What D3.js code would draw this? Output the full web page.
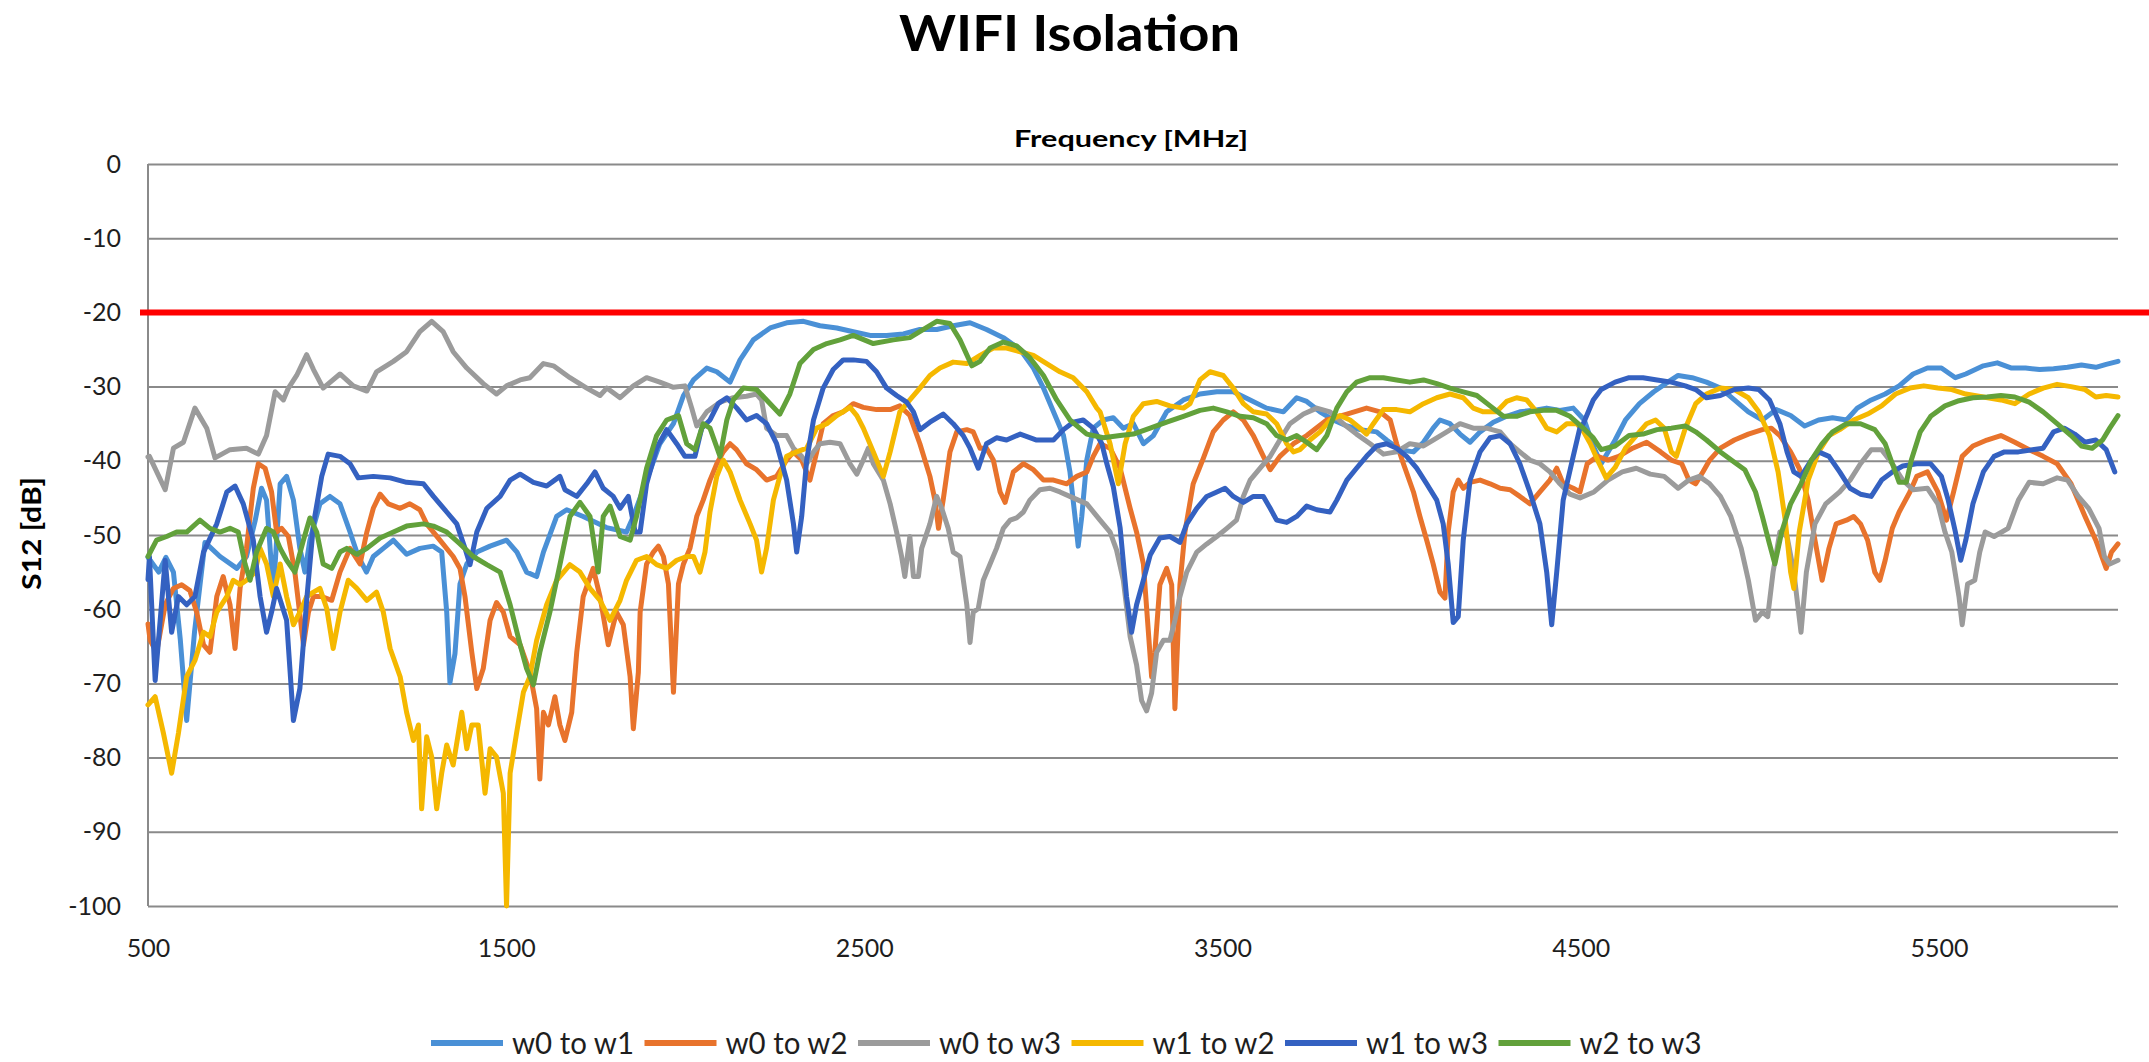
<!DOCTYPE html>
<html><head><meta charset="utf-8">
<script src="https://cdn.jsdelivr.net/npm/d3@7"></script>
<style>
html,body{margin:0;padding:0;background:#fff;}
svg{display:block;}
text{font-family:Lato,"Open Sans",sans-serif;}
</style></head><body>
<svg id="chart" width="2149" height="1062"></svg>
<script>
// ---------- data (frequency MHz, S12 dB) ----------
const seriesNames = ["w0 to w1","w0 to w2","w0 to w3","w1 to w2","w1 to w3","w2 to w3"];
const xTicks = [500,1500,2500,3500,4500,5500];
const yTicks = [0,-10,-20,-30,-40,-50,-60,-70,-80,-90,-100];
const limitDb = -20;

const w0w1 = [[500,-53],[530,-55],[550,-53],[571,-55],[590,-64],[608,-75],[630,-63],[659,-51],[701,-52.9],[748,-54.5],[775,-52.9],[799,-48.1],[817,-43.7],[831,-45.3],[850,-57.7],[869,-43.1],[887,-42.1],[906,-45.3],[924,-51.8],[938,-55],[952,-50.7],[980,-45.8],[1008,-44.8],[1036,-45.8],[1064,-49.6],[1087,-52.9],[1110,-55],[1129,-52.9],[1157,-51.8],[1185,-50.7],[1222,-52.6],[1259,-51.8],[1296,-51.5],[1320,-52.3],[1334,-60.4],[1343,-69.9],[1357,-66],[1371,-56.6],[1390,-53.9],[1418,-52.3],[1455,-51.5],[1501,-50.7],[1530,-52.3],[1557,-55],[1585,-55.6],[1604,-52.3],[1641,-47.5],[1669,-46.6],[1715,-47.5],[1780,-49],[1836,-49.6],[1855,-47.5],[1892,-42.6],[1929,-37.7],[1967,-35],[1995,-31.2],[2023,-29.1],[2060,-27.5],[2088,-28],[2125,-29.4],[2153,-26.4],[2190,-23.7],[2237,-22.1],[2283,-21.4],[2330,-21.2],[2376,-21.8],[2423,-22.1],[2469,-22.6],[2516,-23.1],[2562,-23.1],[2609,-22.9],[2655,-22.3],[2702,-22.3],[2748,-21.8],[2795,-21.4],[2841,-22.3],[2888,-23.4],[2935,-25],[2972,-27.5],[3000,-30.2],[3028,-33.4],[3056,-36.6],[3074,-41.5],[3088,-47.5],[3097,-51.5],[3107,-47.5],[3121,-39.9],[3139,-35.6],[3167,-34.5],[3195,-34.2],[3223,-35.6],[3251,-35],[3279,-37.7],[3307,-36.6],[3344,-33.4],[3391,-31.8],[3437,-31],[3484,-30.7],[3530,-30.7],[3577,-31.8],[3623,-32.9],[3670,-33.4],[3707,-31.5],[3735,-32],[3772,-33.4],[3809,-34.5],[3847,-35.3],[3884,-35.8],[3930,-36.1],[3958,-37.2],[3995,-38.5],[4033,-38.8],[4061,-37.5],[4088,-35.6],[4107,-34.5],[4135,-35],[4163,-36.4],[4191,-37.5],[4219,-36.1],[4256,-34.8],[4293,-34],[4330,-33.4],[4368,-33.2],[4405,-32.9],[4442,-33.2],[4479,-32.9],[4510,-34.5],[4535,-38],[4557,-40.4],[4596,-37.2],[4625,-34.5],[4664,-32.3],[4704,-30.7],[4743,-29.4],[4772,-28.5],[4811,-28.8],[4851,-29.4],[4890,-30.2],[4929,-31.8],[4968,-33.4],[5007,-34.5],[5046,-33.1],[5086,-33.9],[5125,-35.3],[5164,-34.5],[5203,-34.2],[5242,-34.5],[5272,-32.9],[5311,-31.8],[5350,-31],[5389,-29.9],[5428,-28.3],[5468,-27.5],[5507,-27.5],[5546,-28.8],[5575,-28.3],[5624,-27.2],[5663,-26.8],[5703,-27.5],[5742,-27.5],[5781,-27.7],[5820,-27.6],[5859,-27.4],[5898,-27.1],[5938,-27.4],[5967,-27],[6000,-26.6]];

const w0w2 = [[500,-62],[506,-64.2],[524,-65.8],[548,-59.4],[571,-57.2],[594,-56.7],[617,-57.5],[636,-60.4],[655,-64.8],[673,-65.8],[692,-58.3],[710,-55.6],[729,-59.4],[743,-65.3],[757,-57.2],[775,-51.8],[794,-43.7],[808,-40.4],[827,-41],[845,-44.2],[859,-49.6],[873,-49.1],[892,-50.2],[910,-55],[934,-64.8],[948,-60.4],[962,-58.3],[985,-58.3],[1013,-58.8],[1036,-55],[1064,-51.8],[1092,-53.9],[1111,-49.6],[1129,-46.4],[1148,-44.5],[1171,-45.8],[1204,-46.4],[1231,-45.8],[1259,-46.6],[1278,-48.5],[1315,-50.7],[1352,-52.9],[1371,-54.5],[1385,-58.3],[1404,-65.8],[1418,-70.7],[1436,-68],[1455,-61.5],[1473,-59.1],[1492,-60.4],[1511,-63.7],[1539,-64.8],[1566,-68.5],[1585,-73.4],[1594,-82.9],[1604,-73.9],[1618,-75.6],[1636,-71.8],[1650,-75.6],[1664,-77.7],[1683,-73.9],[1697,-65.8],[1715,-58.3],[1743,-54.5],[1762,-58.3],[1785,-64.8],[1808,-60.4],[1827,-62.1],[1846,-69.1],[1855,-76.1],[1869,-68.5],[1874,-60.4],[1892,-53.9],[1911,-52.3],[1925,-51.5],[1939,-52.9],[1953,-56.6],[1967,-71.2],[1981,-56.6],[1995,-53.9],[2013,-51.8],[2032,-47.5],[2050,-45.3],[2069,-42.6],[2088,-40.4],[2106,-38.8],[2125,-37.7],[2143,-38.5],[2171,-40.4],[2199,-41.2],[2227,-42.6],[2255,-42.1],[2283,-39.9],[2302,-38.8],[2325,-39.9],[2348,-42.6],[2367,-38.8],[2385,-35],[2413,-33.9],[2441,-33.4],[2469,-32.3],[2497,-32.8],[2534,-33.1],[2572,-33.1],[2599,-32.6],[2627,-33.9],[2655,-37.7],[2683,-42.1],[2697,-45.3],[2707,-49.1],[2720,-45.3],[2739,-38.8],[2758,-36.1],[2786,-35.8],[2804,-36.1],[2823,-38.3],[2841,-38.3],[2860,-39.9],[2879,-44.2],[2893,-45.6],[2916,-41.5],[2944,-40.4],[2972,-41.2],[3000,-42.6],[3028,-42.6],[3065,-43.1],[3093,-42.1],[3121,-41.5],[3139,-39.4],[3158,-37.7],[3186,-38.3],[3214,-41],[3242,-46.4],[3260,-49.6],[3279,-53.9],[3293,-63.1],[3302,-69.1],[3311,-65.8],[3325,-56.7],[3344,-54.5],[3358,-56.7],[3367,-73.4],[3381,-56.7],[3395,-49.6],[3418,-43.1],[3446,-39.7],[3474,-36.1],[3502,-34.5],[3530,-33.4],[3558,-34.5],[3586,-36.6],[3614,-39.4],[3633,-41.2],[3660,-39.4],[3698,-37.7],[3735,-36.6],[3791,-34.5],[3847,-33.7],[3902,-32.9],[3940,-33.4],[3968,-34.5],[3986,-37.7],[4005,-40.4],[4033,-44.2],[4051,-47.5],[4070,-50.7],[4088,-53.9],[4107,-57.7],[4121,-58.5],[4130,-49.6],[4144,-44.2],[4158,-42.6],[4172,-43.7],[4191,-42.9],[4219,-42.6],[4247,-43.1],[4275,-43.7],[4303,-43.9],[4330,-44.8],[4358,-45.8],[4386,-44.2],[4414,-42.6],[4433,-41],[4451,-43.1],[4479,-43.7],[4498,-44.2],[4518,-40.4],[4547,-39.4],[4576,-39.9],[4606,-39.4],[4645,-38.3],[4684,-37.5],[4723,-38.8],[4753,-39.9],[4782,-40.4],[4802,-42.6],[4821,-43.1],[4841,-41.5],[4860,-39.9],[4890,-38.3],[4929,-37.2],[4968,-36.4],[5007,-35.8],[5032,-35.6],[5056,-36.6],[5086,-38.8],[5110,-41],[5135,-45.3],[5154,-50.7],[5174,-56.1],[5193,-51.8],[5213,-48.5],[5242,-48],[5262,-47.5],[5281,-48.5],[5301,-50.7],[5321,-55],[5335,-56.1],[5350,-53.4],[5370,-49.1],[5389,-46.9],[5419,-44.2],[5438,-42.1],[5468,-41.5],[5497,-44.2],[5521,-48],[5541,-44.2],[5565,-39.4],[5595,-38],[5634,-37.2],[5673,-36.6],[5712,-37.5],[5752,-38.5],[5791,-39.4],[5830,-40.4],[5869,-43.1],[5908,-47.5],[5938,-50.7],[5967,-54.5],[5982,-52.3],[6000,-51.2]];

const w0w3 = [[500,-39.5],[504,-39.4],[548,-43.9],[571,-38.3],[599,-37.5],[631,-32.9],[664,-35.6],[687,-39.6],[729,-38.5],[775,-38.3],[808,-39.1],[831,-36.6],[855,-30.7],[878,-31.8],[892,-30.2],[915,-28.5],[943,-25.7],[962,-27.7],[989,-30.2],[1036,-28.3],[1073,-29.9],[1111,-30.6],[1138,-28],[1185,-26.6],[1222,-25.3],[1259,-22.6],[1292,-21.2],[1324,-22.6],[1352,-25.3],[1390,-27.5],[1436,-29.6],[1473,-31],[1501,-29.9],[1539,-29.1],[1566,-28.8],[1604,-26.9],[1632,-27.2],[1678,-28.8],[1725,-30.2],[1762,-31.2],[1781,-30.2],[1818,-31.5],[1855,-29.9],[1892,-28.8],[1929,-29.4],[1967,-30.1],[1999,-29.9],[2018,-32.9],[2032,-35.3],[2060,-33.4],[2097,-32.1],[2134,-31.5],[2171,-31.3],[2199,-31],[2213,-31.8],[2227,-35.6],[2255,-36.6],[2283,-36.6],[2302,-38.3],[2325,-39.4],[2339,-40.4],[2358,-38.8],[2376,-37.7],[2404,-37.5],[2432,-37.7],[2460,-40.4],[2479,-41.8],[2497,-39.9],[2511,-38.3],[2525,-40.4],[2553,-42.6],[2572,-45.8],[2590,-49.6],[2604,-52.9],[2613,-55.6],[2627,-50.2],[2637,-55.6],[2651,-55.6],[2660,-51.8],[2683,-48.5],[2702,-44.8],[2716,-46.4],[2734,-49.1],[2748,-52.3],[2767,-52.9],[2786,-59.4],[2795,-64.5],[2804,-60.4],[2818,-59.9],[2832,-56.1],[2851,-53.9],[2869,-51.8],[2888,-49.1],[2907,-48],[2925,-47.7],[2944,-46.9],[2962,-45.3],[2990,-43.9],[3018,-43.7],[3046,-44.2],[3083,-45],[3121,-45.8],[3158,-48],[3186,-49.6],[3204,-52],[3223,-56.1],[3242,-63.7],[3260,-67.5],[3274,-72.3],[3288,-73.7],[3302,-71.3],[3316,-65.8],[3335,-64.2],[3353,-64.2],[3367,-61.5],[3381,-58.3],[3400,-55],[3428,-52.3],[3456,-51.2],[3484,-50.2],[3512,-49.1],[3539,-48],[3558,-44.8],[3577,-42.6],[3605,-41],[3633,-39.4],[3660,-37.2],[3688,-35],[3726,-33.7],[3763,-32.9],[3800,-33.4],[3837,-35],[3874,-36.4],[3912,-37.7],[3949,-39.1],[3986,-38.8],[4023,-37.7],[4061,-38],[4088,-37.2],[4126,-36.1],[4163,-35],[4200,-35.6],[4237,-35.6],[4275,-36.1],[4303,-37.7],[4330,-38.8],[4358,-39.9],[4386,-40.4],[4414,-41.5],[4442,-43.1],[4470,-44.5],[4498,-45],[4537,-44.2],[4576,-42.6],[4616,-41.5],[4655,-41],[4694,-41.8],[4733,-42.1],[4772,-43.7],[4802,-42.6],[4831,-42.1],[4860,-43.1],[4890,-44.8],[4919,-47.5],[4948,-51.8],[4968,-56.1],[4988,-61.5],[5007,-60.4],[5022,-61],[5037,-55],[5056,-49.6],[5076,-50.2],[5095,-55],[5115,-63.1],[5130,-55],[5154,-48.5],[5184,-45.8],[5223,-44.2],[5252,-42.6],[5281,-40.4],[5311,-38.5],[5340,-38.5],[5370,-40.4],[5399,-42.6],[5428,-43.9],[5468,-43.7],[5497,-45.8],[5517,-49.6],[5536,-52.3],[5556,-58.3],[5565,-62.1],[5580,-56.6],[5600,-56.1],[5614,-52.3],[5629,-49.6],[5654,-50.2],[5693,-49.1],[5722,-45.3],[5752,-42.9],[5791,-43.1],[5830,-42.3],[5859,-42.6],[5889,-44.8],[5918,-46.4],[5947,-49.1],[5962,-52.9],[5977,-53.9],[6000,-53.4]];

const w1w2 = [[500,-72.9],[520,-71.8],[543,-76.7],[566,-82.1],[585,-76.7],[608,-69.1],[631,-66.9],[655,-63.1],[673,-63.7],[692,-60.4],[720,-58.3],[738,-56.1],[757,-56.7],[775,-56.1],[799,-55],[813,-51.8],[831,-53.9],[850,-58.3],[869,-53.9],[887,-58.3],[906,-62.1],[924,-60.4],[943,-58.3],[962,-57.7],[980,-57.2],[999,-59.9],[1017,-65.3],[1036,-60.4],[1059,-56.1],[1083,-57.2],[1111,-58.8],[1138,-57.7],[1157,-60.4],[1176,-65.3],[1204,-69.1],[1222,-73.9],[1241,-77.7],[1255,-75.6],[1264,-86.9],[1278,-77.2],[1292,-79.9],[1306,-86.9],[1320,-82.1],[1334,-78.3],[1352,-81],[1376,-73.9],[1390,-78.8],[1404,-75.6],[1422,-75.6],[1441,-84.8],[1455,-78.8],[1473,-79.9],[1492,-84.8],[1501,-100],[1511,-82.1],[1529,-76.7],[1548,-71.2],[1566,-69.1],[1585,-64.2],[1613,-59.4],[1641,-56.1],[1678,-54],[1706,-55],[1734,-57.2],[1762,-58.8],[1790,-61.5],[1818,-58.8],[1836,-56.1],[1864,-53.4],[1892,-52.9],[1920,-54],[1948,-54.5],[1976,-53.4],[2004,-52.9],[2023,-52.9],[2041,-55],[2055,-52.3],[2069,-46.9],[2088,-42.1],[2106,-39.9],[2125,-41.5],[2153,-45.3],[2181,-48.5],[2199,-50.7],[2213,-55],[2227,-51.8],[2246,-45.3],[2264,-42.1],[2283,-39.4],[2311,-38.8],[2339,-38.3],[2367,-35.6],[2395,-35],[2423,-33.9],[2460,-32.8],[2479,-33.9],[2497,-35.6],[2525,-38.8],[2553,-42.1],[2572,-38.8],[2599,-33.4],[2627,-31.8],[2655,-30.2],[2683,-28.5],[2711,-27.5],[2748,-26.7],[2786,-26.9],[2823,-25.8],[2860,-24.8],[2897,-24.8],[2935,-25.3],[2972,-25.8],[3009,-26.9],[3046,-28],[3083,-28.8],[3121,-30.7],[3149,-32.9],[3158,-33.4],[3186,-37.7],[3209,-43.1],[3228,-37.7],[3251,-34],[3279,-32.3],[3316,-32],[3353,-32.6],[3391,-32.9],[3409,-32.3],[3437,-29.1],[3465,-28],[3502,-28.5],[3530,-30.2],[3558,-32.3],[3586,-33.4],[3623,-33.7],[3651,-35],[3679,-37.7],[3698,-38.8],[3716,-38.5],[3744,-37.2],[3772,-36.1],[3800,-34.5],[3828,-33.9],[3856,-34.5],[3884,-35.6],[3902,-36.4],[3921,-35],[3949,-33.1],[3986,-33.1],[4023,-33.4],[4061,-32.3],[4098,-31.5],[4135,-31],[4172,-31.5],[4200,-32.9],[4228,-33.4],[4265,-33.4],[4293,-32],[4321,-31.5],[4349,-31.8],[4377,-33.4],[4405,-35.6],[4433,-36.1],[4461,-35],[4489,-35],[4507,-36],[4527,-37.7],[4547,-39.9],[4571,-42.3],[4596,-40.9],[4625,-38.3],[4655,-36.6],[4684,-35],[4709,-34.5],[4733,-35.6],[4753,-38.8],[4767,-39.4],[4792,-35.6],[4821,-32.3],[4851,-31],[4890,-30.2],[4929,-30.4],[4968,-31.5],[4997,-33.4],[5027,-36.6],[5051,-41.5],[5071,-48],[5086,-55],[5095,-57.2],[5110,-49.6],[5135,-42.6],[5164,-38.8],[5193,-36.6],[5223,-35.8],[5262,-34.5],[5301,-33.7],[5340,-32.6],[5379,-31],[5419,-30.2],[5458,-29.9],[5497,-30.2],[5536,-30.4],[5575,-31],[5624,-31.4],[5673,-31.8],[5712,-32.3],[5752,-31],[5791,-30.2],[5830,-29.7],[5869,-30],[5908,-30.4],[5938,-31.4],[5967,-31.2],[6000,-31.4]];

const w1w3 = [[500,-56],[504,-52.9],[520,-69.6],[548,-53.4],[566,-63.1],[585,-58.3],[608,-59.4],[631,-58.3],[655,-52.3],[692,-48.5],[720,-44.2],[743,-43.4],[766,-45.8],[794,-50.7],[813,-58.3],[831,-63.1],[845,-60.4],[859,-57.2],[887,-61.5],[906,-75],[924,-70.7],[943,-58.8],[962,-48.5],[985,-42.1],[1003,-39.1],[1036,-39.4],[1064,-40.4],[1087,-42.3],[1129,-42.1],[1176,-42.3],[1222,-42.9],[1269,-43.1],[1297,-44.8],[1334,-46.9],[1362,-48.5],[1385,-51.8],[1399,-54],[1418,-49.6],[1446,-46.4],[1483,-44.8],[1511,-42.6],[1539,-41.8],[1576,-42.9],[1613,-43.4],[1650,-42.1],[1664,-43.9],[1697,-44.8],[1725,-43.1],[1748,-41.5],[1771,-43.7],[1799,-44.8],[1818,-46.4],[1841,-44.8],[1860,-49.6],[1874,-49.6],[1892,-43.1],[1920,-38.3],[1948,-35.8],[1976,-37.7],[1999,-39.4],[2027,-39.4],[2046,-35.6],[2069,-34.5],[2092,-32.3],[2116,-31.5],[2144,-32.9],[2171,-34.5],[2199,-33.9],[2227,-35],[2255,-37.7],[2283,-42.6],[2302,-48.5],[2311,-52.3],[2325,-47.5],[2339,-39.9],[2358,-34.5],[2385,-30.2],[2413,-27.7],[2441,-26.4],[2469,-26.4],[2506,-26.6],[2534,-28],[2562,-30.2],[2590,-31.2],[2618,-32.1],[2637,-33.4],[2655,-35.8],[2683,-34.8],[2720,-33.7],[2748,-35],[2776,-36.6],[2795,-38.3],[2818,-41],[2841,-37.7],[2869,-36.9],[2897,-37.2],[2935,-36.4],[2981,-37.2],[3028,-37.2],[3056,-35.8],[3083,-34.8],[3111,-34.5],[3139,-35.6],[3163,-37.7],[3177,-40.4],[3195,-43.5],[3214,-49],[3232,-58.3],[3246,-63.1],[3260,-59.4],[3279,-56.1],[3298,-52.7],[3325,-50.4],[3353,-50.2],[3381,-51],[3400,-48.5],[3428,-46.4],[3456,-44.8],[3484,-44.2],[3507,-43.7],[3530,-44.8],[3558,-45.6],[3586,-44.8],[3614,-44.8],[3633,-46.4],[3651,-48],[3679,-48.3],[3707,-47.5],[3735,-46.1],[3763,-46.6],[3800,-46.9],[3819,-45.3],[3847,-42.6],[3874,-41],[3902,-39.4],[3930,-38],[3958,-37.7],[3986,-38.3],[4014,-39.4],[4042,-41],[4070,-43.1],[4098,-45.3],[4116,-48.5],[4130,-53.9],[4144,-61.8],[4158,-61],[4172,-50.7],[4191,-42.6],[4219,-38.8],[4247,-36.9],[4275,-36.6],[4303,-37.7],[4330,-40.4],[4358,-44.2],[4386,-48.5],[4405,-55],[4419,-62.1],[4433,-55],[4451,-45.3],[4479,-39.4],[4498,-35.5],[4507,-35],[4535,-31.8],[4557,-30.4],[4596,-29.4],[4635,-28.8],[4674,-28.8],[4713,-29.1],[4753,-29.4],[4792,-29.9],[4821,-30.4],[4851,-31.5],[4890,-31.2],[4929,-30.4],[4968,-30.2],[4997,-30.4],[5027,-31.8],[5056,-35],[5076,-38.8],[5095,-41.5],[5115,-42.1],[5144,-39.9],[5164,-38.8],[5193,-39.4],[5223,-41.5],[5252,-43.7],[5281,-44.5],[5311,-44.8],[5340,-42.6],[5370,-41.5],[5399,-40.7],[5438,-40.4],[5477,-40.4],[5507,-42.1],[5526,-45.3],[5546,-49.6],[5561,-53.4],[5575,-50.7],[5595,-45.8],[5624,-41.5],[5654,-39.4],[5683,-38.8],[5722,-38.8],[5761,-38.5],[5791,-38.3],[5820,-36.1],[5850,-35.6],[5879,-36.4],[5908,-37.5],[5938,-37.2],[5967,-38.5],[5991,-41.5]];

const w2w3 = [[500,-52.9],[524,-50.7],[552,-50.2],[580,-49.6],[608,-49.6],[645,-48],[673,-49.1],[701,-49.6],[729,-49.1],[752,-49.6],[771,-53.9],[785,-56.1],[803,-52.3],[831,-49.1],[850,-49.6],[869,-51.8],[887,-53.4],[910,-55],[934,-50.7],[952,-47.7],[971,-49.6],[989,-53.9],[1013,-54.5],[1036,-52.3],[1055,-51.8],[1083,-52.6],[1111,-51.8],[1148,-50.4],[1185,-49.6],[1222,-48.8],[1269,-48.5],[1297,-48.8],[1334,-49.6],[1371,-51.2],[1408,-52.9],[1446,-54],[1483,-55],[1511,-59.4],[1539,-64.8],[1557,-68],[1576,-70.2],[1594,-65.8],[1622,-60.4],[1650,-54],[1678,-47.5],[1706,-45.6],[1734,-47.5],[1757,-55],[1771,-47.5],[1790,-46.1],[1818,-50.2],[1846,-50.7],[1864,-47.5],[1892,-41],[1920,-36.6],[1948,-34.5],[1981,-33.9],[2004,-37.7],[2027,-38.5],[2050,-35],[2069,-35.6],[2097,-39.4],[2116,-34.5],[2134,-31.8],[2162,-30.2],[2199,-30.4],[2227,-31.8],[2264,-33.7],[2292,-31],[2320,-26.9],[2358,-25],[2395,-24.2],[2432,-23.7],[2469,-23.1],[2525,-24.2],[2581,-23.7],[2627,-23.4],[2665,-22.3],[2702,-21.2],[2739,-21.5],[2767,-23.7],[2800,-27.2],[2823,-26.6],[2851,-24.8],[2888,-24],[2925,-24.5],[2962,-26.1],[3000,-28.5],[3037,-31.8],[3074,-34.5],[3121,-36.4],[3167,-36.9],[3214,-36.6],[3251,-36.4],[3298,-35.6],[3344,-34.8],[3391,-34],[3437,-33.2],[3474,-32.9],[3512,-33.4],[3549,-34],[3586,-34.2],[3623,-35],[3651,-36.6],[3679,-37.2],[3707,-36.6],[3735,-37.5],[3763,-38.5],[3791,-36.6],[3819,-32.9],[3847,-30.7],[3874,-29.4],[3912,-28.8],[3949,-28.8],[3986,-29.1],[4023,-29.4],[4061,-29.1],[4098,-29.6],[4135,-30.2],[4172,-30.7],[4210,-31.2],[4247,-32.6],[4284,-34],[4321,-34],[4358,-33.4],[4396,-33.2],[4433,-33.2],[4470,-34],[4507,-35.6],[4535,-36.9],[4557,-38.5],[4596,-38],[4635,-36.6],[4674,-36.4],[4713,-35.8],[4753,-35.6],[4792,-35.3],[4821,-36.1],[4851,-37.2],[4890,-38.8],[4929,-40.2],[4958,-41.2],[4988,-44.2],[5007,-47.5],[5027,-51.2],[5042,-53.9],[5061,-49.6],[5086,-45.8],[5115,-43.1],[5144,-39.9],[5174,-37.7],[5203,-36.1],[5242,-35],[5281,-35],[5321,-35.8],[5350,-37.7],[5370,-40.4],[5389,-42.9],[5409,-42.9],[5423,-39.9],[5448,-36.1],[5477,-34],[5517,-32.6],[5556,-31.9],[5595,-31.5],[5634,-31.4],[5673,-31.2],[5712,-31.4],[5752,-32.1],[5791,-33.4],[5830,-35],[5869,-36.6],[5898,-38],[5928,-38.3],[5957,-37.2],[5977,-35.6],[6000,-33.9]];

const seriesData = [w0w1, w0w2, w0w3, w1w2, w1w3, w2w3];
const seriesColors = ["#4a90d6","#e8732c","#9b9b9b","#f5b800","#3461c1","#62a13b"];

// ---------- layout ----------
const plot = {left:148, right:2118, top:164, bottom:906};
const svg = d3.select("#chart");
const x = d3.scaleLinear().domain([500, 6000]).range([plot.left, plot.right]);
const y = d3.scaleLinear().domain([-100, 0]).range([plot.bottom, plot.top]);
const gridColor = "#8a8a8a";

svg.append("rect").attr("width",2149).attr("height",1062).attr("fill","#fff");

// horizontal gridlines + y labels
svg.append("g")
  .attr("transform", `translate(${plot.left},0)`)
  .call(d3.axisLeft(y).tickValues(yTicks).tickSize(-(plot.right-plot.left)).tickPadding(27).tickFormat(d => String(d)))
  .call(g => g.select(".domain").remove())
  .call(g => g.selectAll(".tick line").attr("stroke", gridColor).attr("stroke-width", 2))
  .call(g => g.selectAll(".tick text").attr("font-size", 25).attr("fill", "#1e1e1e")
      .style("font-family","Lato,'Open Sans',sans-serif"));

// left axis line
svg.append("line").attr("x1",plot.left).attr("x2",plot.left).attr("y1",plot.top).attr("y2",plot.bottom)
  .attr("stroke",gridColor).attr("stroke-width",2);

// x labels
svg.append("g")
  .attr("transform", `translate(0,${plot.bottom})`)
  .call(d3.axisBottom(x).tickValues(xTicks).tickSize(0).tickPadding(33).tickFormat(d => String(d)))
  .call(g => g.select(".domain").remove())
  .call(g => g.selectAll(".tick text").attr("font-size", 25).attr("fill", "#1e1e1e")
      .style("font-family","Lato,'Open Sans',sans-serif"));

// series
const line = d3.line().x(d => x(d[0])).y(d => y(d[1]));
svg.append("g").selectAll("path").data(seriesData).join("path")
  .attr("d", line)
  .attr("fill","none")
  .attr("stroke",(d,i) => seriesColors[i])
  .attr("stroke-width",5)
  .attr("stroke-linejoin","round")
  .attr("stroke-linecap","round");

// -20 dB limit line
svg.append("line").attr("x1",140).attr("x2",2149).attr("y1",y(limitDb)).attr("y2",y(limitDb))
  .attr("stroke","#ff0000").attr("stroke-width",6);

// titles
svg.append("text").attr("x",1069.5).attr("y",51).attr("text-anchor","middle")
  .attr("font-size",50).attr("font-weight","bold").attr("fill","#000")
  .attr("textLength",341).attr("lengthAdjust","spacingAndGlyphs").text("WIFI Isolation");
svg.append("text").attr("x",1131).attr("y",147).attr("text-anchor","middle")
  .attr("font-size",22).attr("font-weight","bold").attr("fill","#000")
  .attr("textLength",234).attr("lengthAdjust","spacingAndGlyphs").text("Frequency [MHz]");
svg.append("text").attr("transform","translate(41,533.5) rotate(-90)").attr("text-anchor","middle")
  .attr("font-size",26).attr("font-weight","bold").attr("fill","#000")
  .attr("textLength",113).attr("lengthAdjust","spacingAndGlyphs").text("S12 [dB]");

// legend
const legend = svg.append("g").selectAll("g").data(seriesNames).join("g")
  .attr("transform",(d,i) => `translate(${431 + i*213.5},1043)`);
legend.append("line").attr("x1",0).attr("x2",72).attr("y1",0).attr("y2",0)
  .attr("stroke",(d,i) => seriesColors[i]).attr("stroke-width",6);
legend.append("text").attr("x",81).attr("y",11).attr("font-size",30).attr("fill","#1e1e1e")
  .attr("textLength",122).attr("lengthAdjust","spacingAndGlyphs").text(d => d);
</script>
</body></html>
